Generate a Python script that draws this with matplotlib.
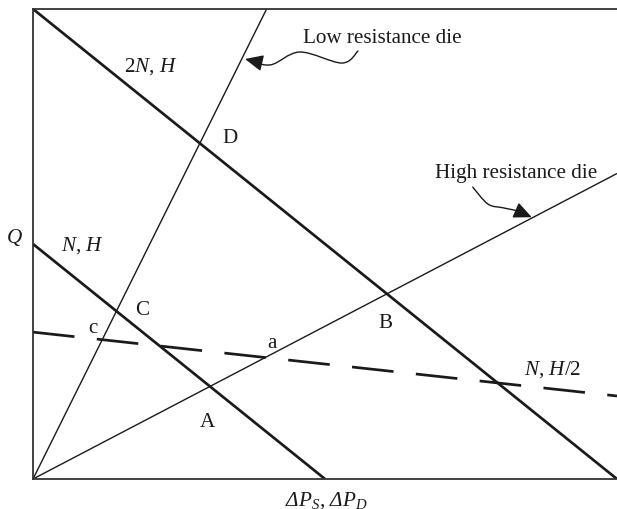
import numpy as np
import matplotlib
matplotlib.use("Agg")
import matplotlib.pyplot as plt
from matplotlib.path import Path
from matplotlib.patches import FancyArrowPatch

plt.rcParams["font.family"] = ["Liberation Serif", "DejaVu Serif"]
plt.rcParams["mathtext.fontset"] = "custom"
plt.rcParams["mathtext.rm"] = "Liberation Serif"
plt.rcParams["mathtext.it"] = "Liberation Serif:italic"
# italic face that also slants Greek capitals
plt.rcParams["mathtext.sf"] = "Liberation Serif:italic"

# Plot window (pressure on x, flow rate on y), arbitrary units
x_max = 10.0
y_max = 8.0

# Screw characteristics: (open-discharge flow Q0, closed-discharge pressure Pmax)
screw_names = ["2N, H", "N, H", "N, H/2"]
screw_q0 = [8.0, 4.0, 2.5]
screw_pmax = [10.0, 5.0, 23.0]
screw_dashed = [False, False, True]

# Die characteristics: Q = K * dP
die_names = ["Low resistance die", "High resistance die"]
die_k = [2.0, 0.52]

fig = plt.figure(figsize=(6.17, 5.10), dpi=100)
ax = fig.add_axes([33 / 617, 30 / 510, 584 / 617, 470 / 510])
ax.set_xlim(0, x_max)
ax.set_ylim(0, y_max)
ax.set_xticks([])
ax.set_yticks([])
for side in ("left", "top", "bottom"):
    ax.spines[side].set_color("#333333")
    ax.spines[side].set_linewidth(1.3)
ax.spines["right"].set_visible(False)

ink = "#1a1a1a"

# Screw lines
for q0, pmax, dashed in zip(screw_q0, screw_pmax, screw_dashed):
    x_end = min(pmax, x_max)
    xs = np.array([0.0, x_end])
    ys = q0 * (1 - xs / pmax)
    if dashed:
        ax.plot(xs, ys, color=ink, lw=1.95, linestyle=(0, (15.4, 8.3)),
                solid_capstyle="butt", dash_capstyle="butt")
    else:
        ax.plot(xs, ys, color=ink, lw=1.95, solid_capstyle="butt")

# Die lines
for k in die_k:
    x_end = min(x_max, y_max / k)
    xs = np.array([0.0, x_end])
    ax.plot(xs, k * xs, color=ink, lw=1.0, solid_capstyle="butt")


def wavy_arrow(points):
    """Smooth Catmull-Rom curve through points (axes fraction) ending in a filled head."""
    p = np.asarray(points, dtype=float)
    ext = np.vstack([p[0], p, p[-1]])
    verts = [tuple(p[0])]
    codes = [Path.MOVETO]
    for i in range(1, len(ext) - 2):
        p0, p1, p2, p3 = ext[i - 1], ext[i], ext[i + 1], ext[i + 2]
        c1 = p1 + (p2 - p0) / 6.0
        c2 = p2 - (p3 - p1) / 6.0
        verts += [tuple(c1), tuple(c2), tuple(p2)]
        codes += [Path.CURVE4] * 3
    arrow = FancyArrowPatch(path=Path(verts, codes),
                            arrowstyle="-|>,head_length=0.55,head_width=0.25",
                            mutation_scale=20, lw=1.0, color=ink,
                            transform=ax.transAxes, clip_on=False)
    ax.add_patch(arrow)


wavy_arrow([(0.5565, 0.9106), (0.529, 0.885), (0.457, 0.9085),
            (0.406, 0.881), (0.363, 0.8936)])
wavy_arrow([(0.753, 0.621), (0.779, 0.585), (0.805, 0.577),
            (0.830, 0.570), (0.854, 0.557)])

fs = 15.2
tk = dict(transform=ax.transAxes, fontsize=fs, color=ink, clip_on=False)

ax.text(0.202, 0.879, r"2$N$, $H$", ha="center", va="center", **tk)
ax.text(0.084, 0.498, r"$N$, $H$", ha="center", va="center", **tk)
ax.text(0.890, 0.236, r"$N$, $H$/2", ha="center", va="center", **tk)
ax.text(0.462, 0.940, die_names[0], ha="left", va="center", **tk)
ax.text(0.688, 0.653, die_names[1], ha="left", va="center", **tk)

for label, fx, fy in [("D", 0.337, 0.726), ("C", 0.187, 0.360),
                      ("c", 0.103, 0.323), ("a", 0.409, 0.291),
                      ("A", 0.298, 0.123), ("B", 0.604, 0.334)]:
    ax.text(fx, fy, label, ha="center", va="center", **tk)

ax.text(-0.031, 0.517, r"$Q$", ha="center", va="center", **tk)
ax.text(0.503, -0.043, r"$\mathsf{\Delta P_S}$, $\mathsf{\Delta P_D}$",
        ha="center", va="center", **tk)

fig.savefig("out.png", dpi=100)
